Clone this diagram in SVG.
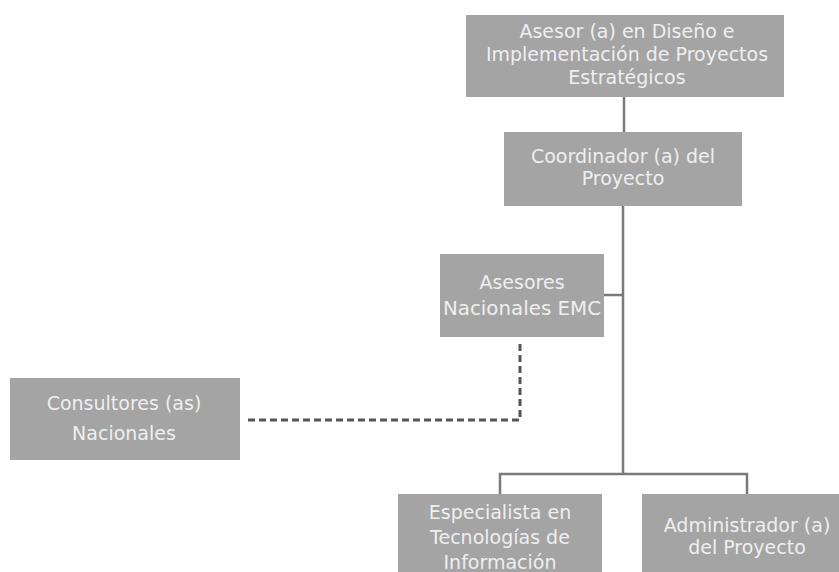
<svg xmlns="http://www.w3.org/2000/svg" width="839" height="572" viewBox="0 0 839 572">
<style>
.box{fill:#a4a4a4;}
.t{font-family:"DejaVu Sans","Open Sans",sans-serif;fill:#efefef;text-anchor:middle;font-size:19px;}
.ln{stroke:#7a7a7a;stroke-width:2.5;fill:none;}
.dash{stroke:#555;stroke-width:3;fill:none;stroke-dasharray:7 4;}
</style>
<rect width="839" height="572" fill="#ffffff"/>
<g id="connectors">
<line class="ln" x1="624" y1="96" x2="624" y2="132"/>
<line class="ln" x1="623" y1="206" x2="623" y2="474"/>
<line class="ln" x1="604" y1="295" x2="623" y2="295"/>
<polyline class="ln" points="500,494 500,474 747,474 747,494"/>
<polyline class="dash" points="248,420 520,420 520,340"/>
</g>
<g id="n-asesor">
<rect class="box" x="466" y="15" width="318" height="82"/>
<text class="t" x="627" y="38" font-size="18">Asesor (a) en Diseño e</text>
<text class="t" x="627" y="61" font-size="18">Implementación de Proyectos</text>
<text class="t" x="627" y="84" font-size="18">Estratégicos</text>
</g>
<g id="n-coordinador">
<rect class="box" x="504" y="132" width="238" height="74"/>
<text class="t" x="623" y="163" font-size="20">Coordinador (a) del</text>
<text class="t" x="623" y="185" font-size="20">Proyecto</text>
</g>
<g id="n-asesores">
<rect class="box" x="440" y="254" width="164" height="83"/>
<text class="t" x="522" y="289" font-size="20">Asesores</text>
<text class="t" x="522" y="315" font-size="20" textLength="158" lengthAdjust="spacingAndGlyphs">Nacionales EMC</text>
</g>
<g id="n-consultores">
<rect class="box" x="10" y="378" width="230" height="82"/>
<text class="t" x="124" y="410">Consultores (as)</text>
<text class="t" x="124" y="440">Nacionales</text>
</g>
<g id="n-especialista">
<rect class="box" x="398" y="494" width="204" height="90"/>
<text class="t" x="500" y="519">Especialista en</text>
<text class="t" x="500" y="544">Tecnologías de</text>
<text class="t" x="500" y="569">Información</text>
</g>
<g id="n-administrador">
<rect class="box" x="642" y="494" width="210" height="90"/>
<text class="t" x="747" y="532">Administrador (a)</text>
<text class="t" x="747" y="554">del Proyecto</text>
</g>
</svg>
